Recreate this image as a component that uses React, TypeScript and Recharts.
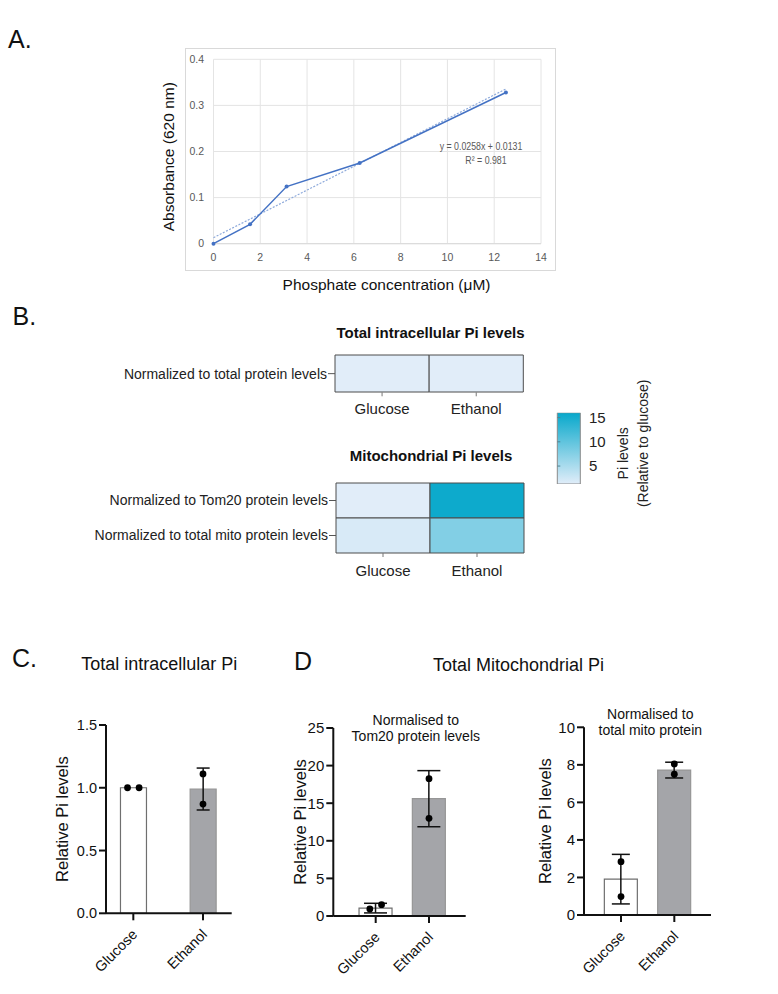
import React from 'react';
import {
  ComposedChart, BarChart, Bar, Line, Scatter, XAxis, YAxis, CartesianGrid,
  Cell, ErrorBar, Label,
} from 'recharts';

const FONT = '"Liberation Sans", Arial, Helvetica, sans-serif';

// ---- A. phosphate standard curve ----
const stdConc = [0, 1.5625, 3.125, 6.25, 12.5];
const stdAbs = [0, 0.042, 0.124, 0.175, 0.328];
const trendConc = [0, 12.5];
const trendAbs = [0.0131, 0.3356];
const concTicks = [0, 2, 4, 6, 8, 10, 12, 14];
const absTicks = [0, 0.1, 0.2, 0.3, 0.4];

// ---- B. heatmaps ----
const heatCols = ['Glucose', 'Ethanol'];
const totalRows = ['Normalized to total protein levels'];
const totalGlucose = [1.0];
const totalEthanol = [0.99];
const mitoRows = ['Normalized to Tom20 protein levels', 'Normalized to total mito protein levels'];
const mitoGlucose = [1.05, 1.9];
const mitoEthanol = [15.6, 7.7];
const scaleMin = 1.3;
const scaleMax = 16;
const scaleTicks = [5, 10, 15];
const lowRGB = [225, 237, 249];
const highRGB = [7, 168, 203];

// ---- C / D. bar charts ----
const groups = ['Glucose', 'Ethanol'];

const cMeans = [1.0, 0.99];
const cSD = [0, 0.167];
const cGlucosePts = [1.0, 1.0];
const cEthanolPts = [1.11, 0.87];
const cGlucoseJitter = [-0.083, 0.083];
const cEthanolJitter = [0, 0];

const tomMeans = [1.05, 15.6];
const tomSD = [0.64, 3.73];
const tomGlucosePts = [0.93, 1.5];
const tomEthanolPts = [18.26, 12.99];
const tomGlucoseJitter = [-0.11, 0.11];
const tomEthanolJitter = [0, 0];

const mitoMeans = [1.91, 7.72];
const mitoSD = [1.32, 0.42];
const mitoGlucosePts = [2.84, 0.98];
const mitoEthanolPts = [8.05, 7.5];
const mitoGlucoseJitter = [0, 0];
const mitoEthanolJitter = [0, 0];

const barFills = ['#ffffff', '#a4a5a9'];
const barStrokes = ['#6f6f6f', '#969696'];

function rgb(c: number[]) {
  return `rgb(${c.map((v) => Math.round(v)).join(',')})`;
}

function heatColor(v: number) {
  const t = Math.max(0, Math.min(1, (v - scaleMin) / (scaleMax - scaleMin)));
  return rgb(lowRGB.map((lo, i) => lo + (highRGB[i] - lo) * t));
}

function makePoints(glu: number[], eth: number[], gj: number[], ej: number[]) {
  return [
    ...glu.map((v, i) => ({ pos: 0 + gj[i], val: v })),
    ...eth.map((v, i) => ({ pos: 1 + ej[i], val: v })),
  ];
}

function Txt({ x, y, size, children, weight, center, color, style }: any) {
  return (
    <div
      style={{
        position: 'absolute',
        left: center ? x - 200 : x,
        top: y,
        width: center ? 400 : undefined,
        textAlign: center ? 'center' : 'left',
        fontSize: size,
        lineHeight: `${size}px`,
        fontWeight: weight || 'normal',
        color: color || '#111',
        whiteSpace: 'nowrap',
        ...style,
      }}
    >
      {children}
    </div>
  );
}

function StandardCurve() {
  const stdData = stdConc.map((x, i) => ({ x, y: stdAbs[i] }));
  const trendData = trendConc.map((x, i) => ({ x, y: trendAbs[i] }));
  const tickStyle = { fontSize: 10.5, fill: '#595959', fontFamily: FONT };
  return (
    <ComposedChart width={410} height={265} margin={{ top: 24.3, right: 24, bottom: 0, left: 0 }}>
      <CartesianGrid stroke="#e4e4e4" />
      <XAxis
        type="number" dataKey="x" domain={[0, 14]} ticks={concTicks} interval={0}
        height={56.3} axisLine={{ stroke: '#d9d9d9' }} tickLine={false} tickSize={0} tickMargin={9.8}
        tick={tickStyle}
      >
        <Label
          content={({ viewBox }: any) => (
            <text
              x={viewBox.x + viewBox.width / 2 + 9.3} y={viewBox.y + viewBox.height - 10}
              textAnchor="middle" fontSize={15.5} fill="#111" fontFamily={FONT}
            >
              Phosphate concentration (μM)
            </text>
          )}
        />
      </XAxis>
      <YAxis
        type="number" domain={[0, 0.4]} ticks={absTicks} interval={0} width={58.5}
        axisLine={false} tickLine={false} tickSize={0} tickMargin={9.5}
        tickFormatter={(v: number) => (v === 0 ? '0' : v.toFixed(1))}
        tick={tickStyle}
      >
        <Label
          content={({ viewBox }: any) => {
            const cx = viewBox.x + 19.5;
            const cy = viewBox.y + viewBox.height / 2 + 5.2;
            return (
              <text
                x={cx} y={cy} transform={`rotate(-90 ${cx} ${cy})`}
                textAnchor="middle" fontSize={15.5} fill="#111" fontFamily={FONT}
              >
                Absorbance (620 nm)
              </text>
            );
          }}
        />
      </YAxis>
      <Line
        data={trendData} dataKey="y" stroke="#8eaadb" strokeWidth={1.2} strokeDasharray="2 1.5"
        dot={false} isAnimationActive={false}
      />
      <Line
        data={stdData} dataKey="y" stroke="#4472c4" strokeWidth={1.5}
        dot={{ r: 2, fill: '#4472c4', stroke: '#4472c4', strokeWidth: 0 }} isAnimationActive={false}
      />
    </ComposedChart>
  );
}

function Heatmap({ rows, glucose, ethanol, width, height, yWidth, margin, xHeight, xTickMargin }: any) {
  const data = rows.map((r: string, i: number) => ({ row: r, g: 1, e: 1, gv: glucose[i], ev: ethanol[i] }));
  return (
    <BarChart
      layout="vertical" width={width} height={height} data={data} margin={margin}
      barCategoryGap={0} barGap={0}
    >
      <XAxis
        type="number" domain={[0, 2]} ticks={[0.5, 1.5]} interval={0} height={xHeight}
        tickFormatter={(v: number) => heatCols[Math.floor(v)]}
        axisLine={false} tickSize={4} tickLine={{ stroke: '#777' }} tickMargin={xTickMargin}
        tick={{ fontSize: 15, fill: '#222', fontFamily: FONT }}
      />
      <YAxis
        type="category" dataKey="row" width={yWidth} interval={0}
        axisLine={false} tickSize={7} tickMargin={1} tickLine={{ stroke: '#555' }}
        tick={{ fontSize: 14, fill: '#222', fontFamily: FONT }}
      />
      <Bar dataKey="g" stackId="h" stroke="#4d4d4d" strokeWidth={1} isAnimationActive={false}>
        {data.map((d: any, i: number) => <Cell key={i} fill={heatColor(d.gv)} />)}
      </Bar>
      <Bar dataKey="e" stackId="h" stroke="#4d4d4d" strokeWidth={1} isAnimationActive={false}>
        {data.map((d: any, i: number) => <Cell key={i} fill={heatColor(d.ev)} />)}
      </Bar>
    </BarChart>
  );
}

const CBAR_W = 23.4;
const CBAR_MARGIN = 8.3;

// tick label on the right plus a short mark inside the left edge of the bar
const ColorTick = (props: any) => {
  const { x, y, payload } = props;
  const left = x - CBAR_MARGIN - CBAR_W;
  return (
    <g>
      <line x1={left} y1={y} x2={left + 3} y2={y} stroke="#4f8493" strokeWidth={1} />
      <text x={x} y={y} dy="0.36em" textAnchor="start" fontSize={15} fill="#222" fontFamily={FONT}>
        {payload.value}
      </text>
    </g>
  );
};

function ColorBar() {
  const data = [{ k: 'scale', range: [scaleMin, scaleMax] }];
  return (
    <ComposedChart
      width={130} height={160} data={data} barCategoryGap={0}
      margin={{ top: 42.7, right: 0, bottom: 46, left: 7.3 }}
    >
      <defs>
        <linearGradient id="cbarGrad" x1="0" y1="0" x2="0" y2="1">
          <stop offset="0%" stopColor={rgb(highRGB)} />
          <stop offset="100%" stopColor={rgb(lowRGB)} />
        </linearGradient>
      </defs>
      <XAxis type="category" dataKey="k" hide />
      <YAxis
        orientation="right" type="number" domain={[scaleMin, scaleMax]} ticks={scaleTicks}
        interval={0} width={99.3} axisLine={false} tickLine={false} tickSize={0} tickMargin={CBAR_MARGIN}
        tick={<ColorTick />} allowDataOverflow
      >
        <Label
          content={({ viewBox }: any) => {
            const x1 = viewBox.x + 47.3;
            const y1 = viewBox.y + 40.6;
            const x2 = viewBox.x + 67.3;
            const y2 = viewBox.y + 30.6;
            return (
              <g fontSize={14} fill="#222" fontFamily={FONT}>
                <text x={x1} y={y1} transform={`rotate(-90 ${x1} ${y1})`} textAnchor="middle">Pi levels</text>
                <text x={x2} y={y2} transform={`rotate(-90 ${x2} ${y2})`} textAnchor="middle">(Relative to glucose)</text>
              </g>
            );
          }}
        />
      </YAxis>
      <Bar dataKey="range" fill="url(#cbarGrad)" stroke="#8a8a8a" strokeWidth={1} isAnimationActive={false} />
    </ComposedChart>
  );
}

const SlantTick = (props: any) => {
  const { x, y, payload } = props;
  const ax = x + 5;
  const ay = y + 13;
  return (
    <text
      x={ax} y={ay} transform={`rotate(-45 ${ax} ${ay})`} textAnchor="end"
      fontSize={14.5} fill="#111" fontFamily={FONT}
    >
      {groups[payload.value]}
    </text>
  );
};

const DotShape = (props: any) => <circle cx={props.cx} cy={props.cy} r={3.4} fill="#000" />;

function BarPanel({
  width, height, margin, yWidth, xHeight, xDomain, yDomain, yTicks, yFmt,
  means, sds, pts, barSize, capWidth, yLabelOffset, tickFs,
}: any) {
  const rows = means.map((m: number, i: number) => ({ pos: i, mean: m, err: sds[i] }));
  const axisStroke = { stroke: '#111', strokeWidth: 2 };
  return (
    <ComposedChart width={width} height={height} data={rows} margin={margin}>
      <XAxis
        type="number" dataKey="pos" domain={xDomain} ticks={[0, 1]} interval={0} height={xHeight}
        axisLine={axisStroke} tickLine={axisStroke} tickSize={7} tick={<SlantTick />} allowDataOverflow
      />
      {/* separate hidden axis for the individual points so their jitter does not narrow the bars */}
      <XAxis xAxisId="pts" type="number" dataKey="pos" domain={xDomain} hide allowDataOverflow />
      <YAxis
        type="number" domain={yDomain} ticks={yTicks} interval={0} width={yWidth}
        axisLine={axisStroke} tickLine={axisStroke} tickSize={7} tickMargin={2}
        tickFormatter={yFmt} tick={{ fontSize: tickFs, fill: '#111', fontFamily: FONT }}
      >
        <Label
          content={({ viewBox }: any) => {
            const cx = viewBox.x + yLabelOffset;
            const cy = viewBox.y + viewBox.height / 2;
            return (
              <text
                x={cx} y={cy} transform={`rotate(-90 ${cx} ${cy})`} textAnchor="middle"
                dominantBaseline="central" fontSize={16.5} fill="#111" fontFamily={FONT}
              >
                Relative Pi levels
              </text>
            );
          }}
        />
      </YAxis>
      <Bar dataKey="mean" barSize={barSize} isAnimationActive={false}>
        {rows.map((r: any, i: number) => (
          <Cell key={i} fill={barFills[i]} stroke={barStrokes[i]} strokeWidth={1.2} />
        ))}
        <ErrorBar dataKey="err" width={capWidth} stroke="#111" strokeWidth={1.5} direction="y" />
      </Bar>
      <Scatter xAxisId="pts" data={pts} dataKey="val" shape={<DotShape />} isAnimationActive={false} />
    </ComposedChart>
  );
}

export default function App() {
  const cPts = makePoints(cGlucosePts, cEthanolPts, cGlucoseJitter, cEthanolJitter);
  const tomPts = makePoints(tomGlucosePts, tomEthanolPts, tomGlucoseJitter, tomEthanolJitter);
  const mitoPts = makePoints(mitoGlucosePts, mitoEthanolPts, mitoGlucoseJitter, mitoEthanolJitter);

  return (
    <div
      style={{
        position: 'absolute', left: 0, top: 0, width: 778, height: 994,
        background: '#fff', fontFamily: FONT, overflow: 'hidden',
      }}
    >
      {/* panel letters */}
      <Txt x={8} y={27} size={25}>A.</Txt>
      <Txt x={12.5} y={303.5} size={25}>B.</Txt>
      <Txt x={12} y={645.7} size={25}>C.</Txt>
      <Txt x={294} y={649.4} size={25}>D</Txt>

      {/* A */}
      <div
        style={{
          position: 'absolute', left: 185, top: 48, width: 369, height: 221,
          border: '1px solid #d9d9d9',
        }}
      />
      <div style={{ position: 'absolute', left: 155, top: 35 }}>
        <StandardCurve />
      </div>
      <Txt x={481} y={140.7} size={11} center color="#595959" style={{ transform: 'scaleX(0.8)' }}>
        y = 0.0258x + 0.0131
      </Txt>
      <Txt x={485.5} y={154.7} size={11} center color="#595959" style={{ transform: 'scaleX(0.8)' }}>
        R² = 0.981
      </Txt>

      {/* B */}
      <Txt x={430.5} y={324.7} size={15} weight="bold" center>Total intracellular Pi levels</Txt>
      <div style={{ position: 'absolute', left: 80, top: 340 }}>
        <Heatmap
          rows={totalRows} glucose={totalGlucose} ethanol={totalEthanol}
          width={460} height={80} yWidth={255} xHeight={27.7} xTickMargin={7}
          margin={{ top: 15, right: 16.7, bottom: 0, left: 0 }}
        />
      </div>
      <Txt x={431} y={447.7} size={15} weight="bold" center>Mitochondrial Pi levels</Txt>
      <div style={{ position: 'absolute', left: 60, top: 470 }}>
        <Heatmap
          rows={mitoRows} glucose={mitoGlucose} ethanol={mitoEthanol}
          width={480} height={120} yWidth={276} xHeight={37} xTickMargin={8.5}
          margin={{ top: 13, right: 16, bottom: 0, left: 0 }}
        />
      </div>
      <div style={{ position: 'absolute', left: 550, top: 370 }}>
        <ColorBar />
      </div>

      {/* C */}
      <Txt x={159.2} y={655.3} size={18} center>Total intracellular Pi</Txt>
      <div style={{ position: 'absolute', left: 40, top: 700 }}>
        <BarPanel
          width={210} height={290} margin={{ top: 25, right: 18.3, bottom: 0, left: 0 }}
          yWidth={66} xHeight={76.7} xDomain={[-0.392, 1.412]} yDomain={[0, 1.5]}
          yTicks={[0, 0.5, 1, 1.5]} yFmt={(v: number) => v.toFixed(1)}
          means={cMeans} sds={cSD} pts={cPts} barSize={26} capWidth={6.5}
          yLabelOffset={22} tickFs={14.5}
        />
      </div>

      {/* D */}
      <Txt x={518.5} y={655.5} size={18} center>Total Mitochondrial Pi</Txt>
      <div
        style={{
          position: 'absolute', left: 215.8, top: 711.5, width: 400, textAlign: 'center',
          fontSize: 14, lineHeight: '16px', color: '#111',
        }}
      >
        Normalised to<br />Tom20 protein levels
      </div>
      <div
        style={{
          position: 'absolute', left: 450.3, top: 706, width: 400, textAlign: 'center',
          fontSize: 14, lineHeight: '16px', color: '#111',
        }}
      >
        Normalised to<br />total mito protein
      </div>
      <div style={{ position: 'absolute', left: 270, top: 700 }}>
        <BarPanel
          width={215} height={290} margin={{ top: 28, right: 19.3, bottom: 0, left: 0 }}
          yWidth={63.3} xHeight={74} xDomain={[-0.795, 1.688]} yDomain={[0, 25]}
          yTicks={[0, 5, 10, 15, 20, 25]} yFmt={(v: number) => String(v)}
          means={tomMeans} sds={tomSD} pts={tomPts} barSize={33} capWidth={11.5}
          yLabelOffset={30} tickFs={15}
        />
      </div>
      <div style={{ position: 'absolute', left: 520, top: 700 }}>
        <BarPanel
          width={210} height={290} margin={{ top: 27.3, right: 19, bottom: 0, left: 0 }}
          yWidth={64} xHeight={75} xDomain={[-0.694, 1.688]} yDomain={[0, 10]}
          yTicks={[0, 2, 4, 6, 8, 10]} yFmt={(v: number) => String(v)}
          means={mitoMeans} sds={mitoSD} pts={mitoPts} barSize={33} capWidth={9}
          yLabelOffset={25.5} tickFs={15}
        />
      </div>
    </div>
  );
}
